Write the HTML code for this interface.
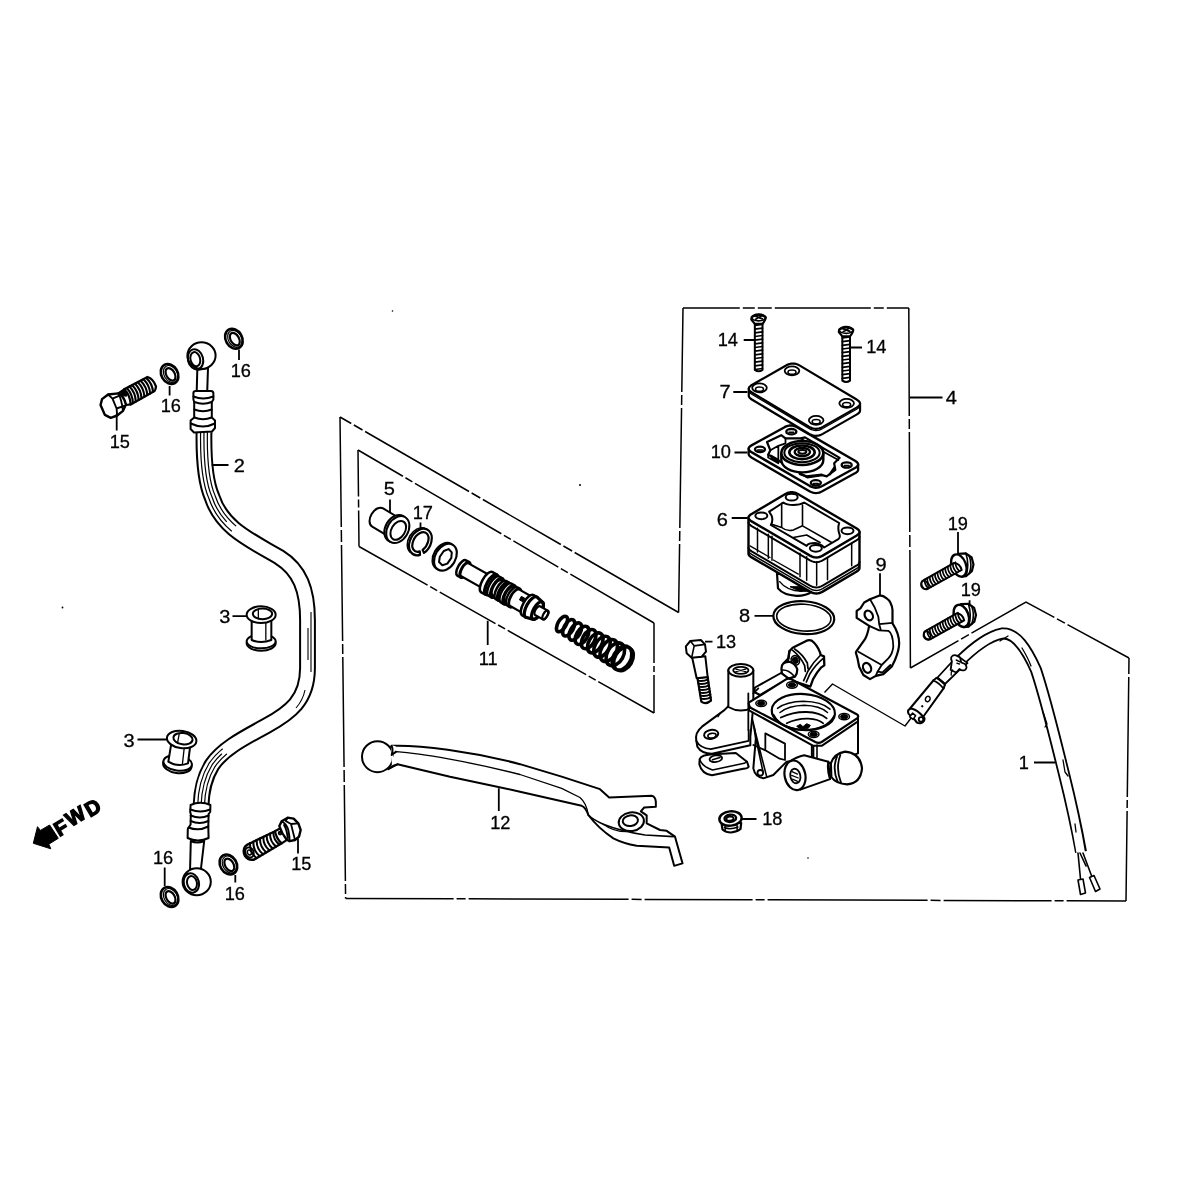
<!DOCTYPE html>
<html lang="en">
<head>
<meta charset="utf-8">
<title>Front brake master cylinder</title>
<style>
html,body{margin:0;padding:0;background:#fff;}
body{width:1200px;height:1200px;overflow:hidden;}
svg{display:block;}
svg text{font-family:"Liberation Sans",sans-serif;font-size:18.2px;fill:#000;stroke:#000;stroke-width:0.3px;}
.p{fill:none;stroke:#000;stroke-width:2;stroke-linecap:round;stroke-linejoin:round;vector-effect:non-scaling-stroke;}
.w{fill:#fff;stroke:#000;stroke-width:2;stroke-linecap:round;stroke-linejoin:round;vector-effect:non-scaling-stroke;}
.t{fill:none;stroke:#000;stroke-width:1.3;stroke-linecap:round;stroke-linejoin:round;vector-effect:non-scaling-stroke;}
.k{fill:#000;stroke:#000;stroke-width:1;stroke-linejoin:round;vector-effect:non-scaling-stroke;}
.f{fill:none;stroke:#000;stroke-width:1.5;stroke-linecap:butt;}
.l{fill:none;stroke:#000;stroke-width:1.8;stroke-linecap:butt;}
</style>
</head>
<body>
<svg width="1200" height="1200" viewBox="0 0 1200 1200">
<rect width="1200" height="1200" fill="#fff"/>
<!-- frames -->
<g id="frames" class="f">
<path d="M340 417 L345.6 898.4" stroke-dasharray="110 3 12 3 96 3 10 3"/>
<path d="M345.6 898.4 L1126 901" stroke-dasharray="108 3 9 3 160 3 10 3"/>
<path d="M1126 901 L1129 658" stroke-dasharray="90 3 8 3 120 3"/>
<path d="M1129 658 L1026 602 L910.4 668" stroke-dasharray="70 3 9 3 95 3 9 3"/>
<path d="M910.4 668 L908.8 308" stroke-dasharray="118 3 12 3 100 3 10 3"/>
<path d="M908.8 308 L683 308" stroke-dasharray="22 3 10 3 96 3 14 3 12 3 80 3"/>
<path d="M683 308 L678.6 612.5" stroke-dasharray="84 3 10 3 120 3 10 3"/>
<path d="M678.6 612.5 L340 417" stroke-dasharray="120 3 10 3 90 3 10 3"/>
<path d="M358 450 L654 623" stroke-dasharray="52 3 8 3 100 3 8 3"/>
<path d="M654 623 L654 713" stroke-dasharray="40 3 6 3"/>
<path d="M654 713 L359 546.5" stroke-dasharray="64 3 8 3 90 3 8 3"/>
<path d="M359 546.5 L358 450" stroke-dasharray="36 3 8 3 60 3"/>
<path d="M824.5 692.5 L832.5 684 L905 726 L911.5 717.5" stroke-width="1.4" stroke-linejoin="round"/>
</g>
<g id="specks" fill="#000" stroke="none">
<circle cx="580" cy="485" r="1"/><circle cx="392.5" cy="311" r="0.8"/><circle cx="62.5" cy="607.5" r="0.9"/><circle cx="808" cy="858" r="0.8"/>
</g>
<!-- hose -->
<g id="hose">
<!-- hose tube -->
<path d="M204 432 C203.6 455 204.5 480 212 497 C222 528 250 540 279 557 C300 570 307.5 590 307.5 620 L307.5 668 C307.5 700 290 713 266 726 C240 740 222 750 212 765 C204 778 201.5 790 201 806" fill="none" stroke="#000" stroke-width="16.8"/>
<path d="M204 430 C203.6 455 204.5 480 212 497 C222 528 250 540 279 557 C300 570 307.5 590 307.5 620 L307.5 668 C307.5 700 290 713 266 726 C240 740 222 750 212 765 C204 778 201.5 790 201 808" fill="none" stroke="#fff" stroke-width="12.8"/>
<!-- hose texture lines -->
<g fill="none" stroke-linecap="butt">
<path d="M204 432 C203.6 455 204.5 480 212 497 C222 528 250 540 279 557" stroke="#000" stroke-width="8" stroke-dasharray="105 400"/>
<path d="M204 432 C203.6 455 204.5 480 212 497 C222 528 250 540 279 557" stroke="#fff" stroke-width="5.6" stroke-dasharray="106 400"/>
<path d="M204 432 C203.6 455 204.5 480 212 497 C222 528 250 540 279 557" stroke="#000" stroke-width="1.2" stroke-dasharray="95 400"/>
<path d="M201 806 C201.5 790 204 778 212 765 C222 750 240 740 266 726" stroke="#000" stroke-width="8" stroke-dasharray="62 400"/>
<path d="M201 806 C201.5 790 204 778 212 765 C222 750 240 740 266 726" stroke="#fff" stroke-width="5.6" stroke-dasharray="63 400"/>
<path d="M201 806 C201.5 790 204 778 212 765 C222 750 240 740 266 726" stroke="#000" stroke-width="1.2" stroke-dasharray="58 400"/>
<path d="M311 612 L311 672 M308 628 L308 660 M305 690 Q303 700 296 708" stroke="#000" stroke-width="1.1"/>
</g>
<!-- top banjo -->
<path class="w" d="M197.3 370 L196.7 392 L207.2 392 L208 368 Z"/>
<ellipse class="w" cx="201.5" cy="355.6" rx="14.1" ry="13.3"/>
<ellipse class="p" cx="195.5" cy="359.3" rx="7.6" ry="10.2" transform="rotate(-14 195.5 359.3)"/>
<ellipse class="p" cx="195.3" cy="359.2" rx="4.8" ry="7.2" transform="rotate(-14 195.3 359.2)"/>
<!-- top collar -->
<path class="w" d="M193.4 393 Q193.4 391 196 391 L211 391 Q213.4 391 213.4 393.5 L213.4 399.5 L211.8 402 L211.8 417.5 L215 420.5 L215 428 L212 431.5 L194 432.5 L190.6 429 L190.6 420.5 L194.2 417.5 L194.2 402 L193.4 399.5 Z"/>
<path class="p" d="M193.5 396.5 Q203 400.5 213.3 396.5 M194.4 402 Q203 405.5 211.7 402 M194.4 409.5 Q203 413 211.7 409.5 M194.4 417.5 Q203 421 211.7 417.5 M190.8 423.5 Q203 429.5 214.8 423.5"/>
<!-- bottom collar -->
<path class="w" d="M190.6 805 Q200.5 800.5 210.4 805 L210.2 812 L208.6 814 L208.3 827 L208.6 838 Q198 843 187.6 838 L187.8 829 L190.6 824.5 L190.8 814 L190.2 812 Z"/>
<path class="p" d="M190.4 809.5 Q200.5 813.5 210.2 809.5 M190.7 815.5 Q200 819.5 208.6 815.5 M190.6 821 Q199.6 825 208.4 821 M188.5 827.5 Q198.5 831.5 208.3 826.5"/>
<!-- bottom banjo -->
<path class="w" d="M190.8 841 L190 872 L200.8 870 L204.2 841 Q197 844 190.8 841 Z"/>
<ellipse class="w" cx="196.7" cy="881.7" rx="14.1" ry="13.5"/>
<ellipse class="p" cx="191.4" cy="883" rx="7.6" ry="9.8" transform="rotate(-14 191.4 883)"/>
<ellipse class="p" cx="192" cy="883" rx="4.9" ry="7" transform="rotate(-14 192 883)"/>
</g>
<!-- bolts -->
<defs>
<g id="wsh">
<ellipse class="w" cx="0" cy="0" rx="8.2" ry="10.5" transform="rotate(-30)" style="stroke-width:2.6"/>
<ellipse class="p" cx="0.9" cy="0.5" rx="6.6" ry="9" transform="rotate(-30)" style="stroke-width:1.2"/>
<ellipse class="p" cx="0.6" cy="0.8" rx="4.2" ry="6.8" transform="rotate(-30)" style="stroke-width:2.2"/>
</g>
</defs>
<g id="washers">
<use href="#wsh" x="169.6" y="374"/>
<use href="#wsh" x="233.9" y="338.8"/>
<use href="#wsh" x="169.6" y="897"/>
<use href="#wsh" x="228.4" y="864.5"/>
</g>
<!-- bolt 15 top-left : traced at 17.14x in region 95,370 -->
<g id="bolt15a" transform="translate(95 370) scale(0.0583333)">
<path class="w" d="M500 332 L900 120 Q1000 150 1045 280 Q1045 330 1020 362 L612 590 Z" style="stroke-width:2.3"/>
<path class="t" d="M543.8 309.5 Q646.7 414.0 649.7 571.1 M591.2 284.5 Q694.8 387.7 699.1 543.2 M638.8 259.5 Q742.9 361.5 748.4 515.3 M686.2 234.5 Q791.0 335.2 797.8 487.4 M733.8 209.5 Q839.1 309.0 847.2 459.6 M781.2 184.5 Q887.2 282.7 896.6 431.7 M828.8 159.5 Q935.3 256.4 945.9 403.8 M876.2 134.5 Q983.4 230.1 995.3 375.9" style="stroke-width:2.1"/>
<path class="w" d="M400 400 L500 332 Q600 420 612 590 L530 600 Z" style="stroke-width:2.2"/>
<path class="k" d="M430 385 L500 335 L560 400 L540 450 L470 440 Z"/>
<path class="w" d="M95 600 L120 500 L225 420 L400 400 Q500 450 530 590 L480 700 L380 780 L270 820 L170 770 Z" style="stroke-width:2.4"/>
<path class="p" d="M225 420 L300 490 L370 660 L380 780 M300 490 L420 440 M370 660 L500 615 M400 400 Q455 500 480 700" style="stroke-width:1.9"/>
</g>
<!-- bolt 15 bottom : traced at 15x in region 235,810 -->
<g id="bolt15b" transform="translate(235 810) scale(0.0666667)">
<path class="w" d="M180 522 L610 315 L700 500 L290 742 Q200 760 150 690 Q110 610 150 550 Z" style="stroke-width:2.4"/>
<path class="t" d="M225.0 496.1 Q218.7 636.4 324.4 723.4 M275.0 472.4 Q269.3 609.4 373.1 694.3 M325.0 448.6 Q319.9 582.4 421.9 665.2 M375.0 424.9 Q370.5 555.3 470.6 636.1 M425.0 401.1 Q421.1 528.3 519.4 606.9 M475.0 377.4 Q471.7 501.3 568.1 577.8 M525.0 353.6 Q522.2 474.3 616.9 548.7 M575.0 329.9 Q572.8 447.3 665.6 519.6" style="stroke-width:2"/>
<ellipse class="p" cx="218" cy="636" rx="62" ry="78" transform="rotate(-25 218 636)" style="stroke-width:1.8"/>
<ellipse class="p" cx="216" cy="636" rx="30" ry="38" transform="rotate(-25 216 636)" style="stroke-width:1.6"/>
<path class="w" d="M600 318 L680 275 L790 440 L700 500 Q620 430 600 318 Z" style="stroke-width:2.2"/>
<circle class="p" cx="676" cy="346" r="20" style="stroke-width:2"/>
<path class="w" d="M665 240 L700 170 L790 115 L880 130 L950 200 L985 300 L960 400 L900 450 L820 468 L770 440 Q700 350 665 240 Z" style="stroke-width:2.4"/>
<path class="p" d="M790 115 L760 165 L840 210 L900 450 M840 210 L950 200 M700 170 Q770 200 800 300 Q822 400 820 468 M735 225 Q780 300 790 420" style="stroke-width:1.8"/>
</g>
<!-- grommets 3 : traced at 6x in region 110,590 -->
<g id="grommets" transform="translate(110 590) scale(0.1666667)">
<ellipse class="w" cx="907" cy="320" rx="87" ry="44"/>
<ellipse class="w" cx="907" cy="308" rx="87" ry="42"/>
<path class="w" d="M850 170 L850 300 Q907 325 968 300 L968 170 Z"/>
<ellipse class="w" cx="907" cy="148" rx="87" ry="50"/>
<ellipse class="p" cx="915" cy="143" rx="58" ry="32"/>
<path class="p" d="M890 118 L890 172 M935 200 L935 300" style="stroke-width:1.3"/>
<ellipse class="w" cx="404" cy="1050" rx="86" ry="48" transform="rotate(8 404 1050)"/>
<ellipse class="w" cx="406" cy="1038" rx="86" ry="46" transform="rotate(8 406 1038)"/>
<path class="w" d="M368 920 L350 1030 Q405 1065 468 1040 L482 930 Z"/>
<ellipse class="w" cx="430" cy="897" rx="89" ry="52" transform="rotate(8 430 897)"/>
<ellipse class="p" cx="438" cy="892" rx="58" ry="34" transform="rotate(8 438 892)"/>
<path class="p" d="M415 865 L405 920 M445 950 L435 1040" style="stroke-width:1.3"/>
</g>
<!-- FWD arrow -->
<g id="fwd" style="filter:grayscale(1)">
<path d="M37.5 826.7 L40.4 830.4 L49.6 825 L58.3 838.3 L48.8 844.2 L50.8 848.8 L33.3 843.3 Z" fill="#000" stroke="#000" stroke-width="1" stroke-linejoin="round"/>
<text x="0 14.8 36.4" y="0 -2.6 -1.2" transform="translate(59.3 837.1) rotate(-30.8)" style="font-weight:bold;font-size:20.5px;stroke:#000;stroke-width:1.3px">FWD</text>
</g>
<!-- piston -->
<g id="sleeve5" transform="translate(397.8 529.6) rotate(31)">
<path class="w" d="M-2 -10.6 L-23.5 -10.6 A7 10.6 0 0 0 -23.5 10.6 L-2 10.6 Z"/>
<ellipse class="w" cx="-2.2" cy="0" rx="10.4" ry="14.4"/>
<ellipse class="w" cx="0" cy="0" rx="10.4" ry="14.4"/>
<ellipse class="p" cx="0.8" cy="0.4" rx="6.8" ry="10.2"/>
</g>
<g id="circlip17" transform="translate(420.4 542) rotate(31)">
<path class="p" style="stroke-width:1.6" d="M-3.77 13.98 A10.2 14.2 0 0 1 -3.77 -13.98"/>
<path class="w" style="stroke-width:2.2" d="M6.28 11.19 A10.2 14.2 0 1 1 8.65 7.52 L5.94 5.62 A7 10.6 0 1 0 4.31 8.35 Z"/>
</g>
<g id="pwasher" transform="translate(445.4 557.2) rotate(31)">
<ellipse class="w" cx="-1.8" cy="0" rx="10.2" ry="14.4"/>
<ellipse class="w" cx="0" cy="0" rx="10.2" ry="14.4" style="stroke-width:2.2"/>
<path class="p" d="M-1.5 -8.6 L3 -7.4 L5.4 -2.5 L5 4.5 L1.5 8.4 L-3 7.4 L-5 2.5 L-4.6 -4.5 Z"/>
</g>
<g id="piston" transform="translate(461.6 568.0) rotate(29.3)">
<path class="w" d="M0.00 -8.80 L3.80 -8.80 A3.70 8.80 0 0 1 3.80 8.80 L0.00 8.80 A3.70 8.80 0 0 1 0.00 -8.80 Z" style="stroke-width:2.5"/><ellipse class="p" cx="3.80" cy="0" rx="3.70" ry="8.80" style="stroke-width:2.5"/>
<path class="w" d="M3.80 -7.40 L29.00 -7.40 A3.11 7.40 0 0 1 29.00 7.40 L3.80 7.40 A3.11 7.40 0 0 1 3.80 -7.40 Z" style="stroke-width:2.2"/>
<path class="w" d="M29.00 -11.60 L34.00 -11.60 A4.87 11.60 0 0 1 34.00 11.60 L29.00 11.60 A4.87 11.60 0 0 1 29.00 -11.60 Z" style="stroke-width:2.5"/><ellipse class="p" cx="34.00" cy="0" rx="4.87" ry="11.60" style="stroke-width:2.5"/>
<path class="w" d="M34.00 -9.40 L37.00 -9.40 A3.95 9.40 0 0 1 37.00 9.40 L34.00 9.40 A3.95 9.40 0 0 1 34.00 -9.40 Z" style="stroke-width:2.5"/>
<path class="w" d="M37.00 -11.00 L40.50 -11.00 A4.62 11.00 0 0 1 40.50 11.00 L37.00 11.00 A4.62 11.00 0 0 1 37.00 -11.00 Z" style="stroke-width:2.5"/><ellipse class="p" cx="40.50" cy="0" rx="4.62" ry="11.00" style="stroke-width:2.5"/>
<path class="w" d="M40.50 -8.80 L45.00 -8.80 A3.70 8.80 0 0 1 45.00 8.80 L40.50 8.80 A3.70 8.80 0 0 1 40.50 -8.80 Z" style="stroke-width:2.5"/>
<path class="w" d="M45.00 -10.40 L48.00 -10.40 A4.37 10.40 0 0 1 48.00 10.40 L45.00 10.40 A4.37 10.40 0 0 1 45.00 -10.40 Z" style="stroke-width:2.5"/><ellipse class="p" cx="48.00" cy="0" rx="4.37" ry="10.40" style="stroke-width:2.5"/>
<path class="w" d="M48.00 -8.80 L51.00 -8.80 A3.70 8.80 0 0 1 51.00 8.80 L48.00 8.80 A3.70 8.80 0 0 1 48.00 -8.80 Z" style="stroke-width:2.5"/>
<path class="w" d="M51.00 -10.80 L54.50 -10.80 A4.54 10.80 0 0 1 54.50 10.80 L51.00 10.80 A4.54 10.80 0 0 1 51.00 -10.80 Z" style="stroke-width:2.5"/><ellipse class="p" cx="54.50" cy="0" rx="4.54" ry="10.80" style="stroke-width:2.5"/>
<path class="w" d="M54.50 -8.80 L58.00 -8.80 A3.70 8.80 0 0 1 58.00 8.80 L54.50 8.80 A3.70 8.80 0 0 1 54.50 -8.80 Z" style="stroke-width:2.5"/>
<path class="w" d="M58.00 -10.40 L61.00 -10.40 A4.37 10.40 0 0 1 61.00 10.40 L58.00 10.40 A4.37 10.40 0 0 1 58.00 -10.40 Z" style="stroke-width:2.5"/><ellipse class="p" cx="61.00" cy="0" rx="4.37" ry="10.40" style="stroke-width:2.5"/>
<path class="w" d="M61.00 -9.40 L76.00 -9.40 A3.95 9.40 0 0 1 76.00 9.40 L61.00 9.40 A3.95 9.40 0 0 1 61.00 -9.40 Z" style="stroke-width:2.2"/>
<path class="k" d="M66 -4.5 L70 -4.5 L70 -0.5 L66 -0.5 Z"/>
<path class="w" d="M76.00 -11.60 L80.00 -11.60 A4.87 11.60 0 0 1 80.00 11.60 L76.00 11.60 A4.87 11.60 0 0 1 76.00 -11.60 Z" style="stroke-width:2.5"/><ellipse class="p" cx="80.00" cy="0" rx="4.87" ry="11.60" style="stroke-width:2.5"/>
<path class="w" d="M80.00 -11.60 L87.00 -9.80 A4.12 9.80 0 0 1 87.00 9.80 L80.00 11.60 A4.87 11.60 0 0 1 80.00 -11.60 Z" style="stroke-width:3.2"/><ellipse class="p" cx="87.00" cy="0" rx="4.12" ry="9.80" style="stroke-width:3.2"/>
<path class="w" d="M87.00 -5.00 L96.00 -5.00 A2.10 5.00 0 0 1 96.00 5.00 L87.00 5.00 A2.10 5.00 0 0 1 87.00 -5.00 Z" style="stroke-width:2.2"/><ellipse class="p" cx="96.00" cy="0" rx="2.10" ry="5.00" style="stroke-width:2.2"/>
</g>
<g id="spring" transform="translate(562 624) rotate(29.6)">
<ellipse class="p" cx="0.0" cy="0" rx="4.1" ry="8.6" style="stroke-width:3.6"/>
<ellipse class="p" cx="7.7" cy="0" rx="4.6" ry="9.1" style="stroke-width:3.6"/>
<ellipse class="p" cx="15.3" cy="0" rx="5.0" ry="9.5" style="stroke-width:3.6"/>
<ellipse class="p" cx="23.0" cy="0" rx="5.5" ry="10.0" style="stroke-width:3.6"/>
<ellipse class="p" cx="30.7" cy="0" rx="6.0" ry="10.5" style="stroke-width:3.6"/>
<ellipse class="p" cx="38.3" cy="0" rx="6.5" ry="10.9" style="stroke-width:3.6"/>
<ellipse class="p" cx="46.0" cy="0" rx="7.0" ry="11.4" style="stroke-width:3.6"/>
<ellipse class="p" cx="53.7" cy="0" rx="7.5" ry="11.9" style="stroke-width:3.6"/>
<ellipse class="p" cx="61.3" cy="0" rx="8.1" ry="12.3" style="stroke-width:3.6"/>
<ellipse class="p" cx="69.0" cy="0" rx="8.7" ry="12.8" style="stroke-width:3.6"/>
<ellipse class="p" cx="71.4" cy="0" rx="8.7" ry="12.8" style="stroke-width:2.4"/>
</g>
<!-- lever -->
<!-- lever 12 : traced at 6x, origin 520,750 -->
<g id="lever12" transform="translate(520 750) scale(0.1666667)">
<path class="w" d="M-770 -25 C-600 -30 -300 5 0 85 L250 160 L480 235 L535 285 L790 275 Q812 280 815 310 L815 340 L745 345 L725 368 L760 392 L760 440 L840 480 L880 485 L930 520 L975 680 L925 695 L895 585 L700 575 Q620 560 560 530 Q470 470 410 390 Q395 345 370 335 L0 250 L-130 222 L-420 160 L-735 85 L-790 115 L-800 30 Z"/>
<path class="p" d="M-780 35 L-740 10 C-600 20 -300 70 0 147 L250 230 L360 285 Q400 320 410 390" style="stroke-width:1.3"/>
<path class="p" d="M410 390 Q440 420 500 445 Q600 485 750 510 L920 520" style="stroke-width:1.6"/>
<path class="p" d="M500 445 Q560 490 640 490" style="stroke-width:1.2"/>
<circle class="w" cx="-855" cy="40" r="93"/>
<path d="M-775 -30 L-768 100 L-735 85 L-760 35 L-745 -22 Z" fill="#fff" stroke="none"/>
<path class="p" d="M-770 -25 Q-760 0 -770 30 L-745 10 M-790 112 Q-770 95 -735 85"/>
<ellipse class="w" cx="668" cy="430" rx="76" ry="56" transform="rotate(-8 668 430)"/>
<ellipse class="p" cx="662" cy="424" rx="46" ry="32" transform="rotate(-8 662 424)"/>
</g>
<!-- body -->
<!-- master cylinder body : traced at 6x, origin 680,630 -->
<g id="body" transform="translate(680 630) scale(0.1666667)">
<!-- handlebar clamp half (behind) -->
<path class="w" d="M656 128 L676 106 L760 64 Q776 58 790 64 Q822 88 840 134 L844 150 L864 158 L866 212 L848 224 Q820 254 798 296 L782 340 L660 300 L640 240 Z" style="stroke-width:2.3"/>
<path class="p" d="M688 114 Q736 146 764 198 L768 232 M676 122 Q722 158 748 214 L752 248 M844 150 Q800 192 768 246 L742 304 M858 172 Q816 206 780 262 L758 312" style="stroke-width:1.7"/>
<path class="p" d="M656 128 L652 168 L622 200" style="stroke-width:2.2"/>
<ellipse class="k" cx="692" cy="182" rx="17" ry="20" transform="rotate(-25 692 182)"/>
<ellipse class="p" cx="692" cy="182" rx="25" ry="29" transform="rotate(-25 692 182)" style="stroke-width:1.5"/>
<!-- link to plate -->
<path class="w" d="M612 212 Q626 188 660 192 Q694 204 704 236 Q704 262 690 280 L650 292 L612 262 Q604 236 612 212 Z" style="stroke-width:2.2"/>
<path class="p" d="M612 240 Q650 236 684 276" style="stroke-width:1.6"/>
<path class="w" d="M606 258 L450 345 L445 372 L480 390 L652 292 Z" style="stroke-width:2"/>
<!-- lower lever arm -->
<path class="w" d="M118 775 Q128 748 200 746 L335 738 L402 790 L412 820 Q405 832 380 832 L192 872 Q130 862 116 805 Z"/>
<path class="p" d="M118 778 Q135 820 195 840 L385 800 L402 790" style="stroke-width:1.6"/>
<ellipse class="w" cx="215" cy="772" rx="38" ry="20" transform="rotate(-8 215 772)" style="stroke-width:1.8"/>
<path class="p" d="M195 778 L240 765" style="stroke-width:1.6"/>
<!-- body lower-left rib -->
<path class="w" d="M420 480 L445 585 L455 650 L440 830 Q450 880 500 890 L560 870 L640 790 L800 770 L800 690 Z"/>
<path class="p" d="M445 585 L520 880 M455 650 L500 860" style="stroke-width:1.6"/>
<circle class="w" cx="482" cy="857" r="17" style="stroke-width:1.8"/>
<!-- pocket -->
<path class="p" d="M512 620 L630 682 L630 780 L598 772 L512 722 Z M512 722 L440 690" style="stroke-width:1.8"/>
<!-- right body face -->
<path class="w" d="M800 690 L1068 540 L1068 740 L900 800 L800 775 Z"/>
<!-- upper lever arm + tower -->
<path class="w" d="M292 455 Q270 480 240 500 L132 580 Q88 615 98 665 L104 700 Q130 742 192 742 L422 692 L422 640 L440 455 Z"/>
<path class="p" d="M98 665 Q120 708 185 715 L412 665 L412 600" style="stroke-width:1.8"/>
<ellipse class="w" cx="187" cy="626" rx="43" ry="27" transform="rotate(-10 187 626)"/>
<ellipse class="p" cx="192" cy="634" rx="25" ry="14" transform="rotate(-10 192 634)" style="stroke-width:1.6"/>
<path class="p" d="M228 520 L240 500" style="stroke-width:1.4"/>
<path class="w" d="M290 242 L290 462 Q365 505 440 462 L440 242 Z"/>
<ellipse class="w" cx="365" cy="242" rx="75" ry="38"/>
<ellipse class="p" cx="365" cy="242" rx="46" ry="21" style="stroke-width:1.8"/>
<path class="p" d="M335 235 L395 250 M335 250 L395 235" style="stroke-width:1.2"/>
<path class="p" d="M410 380 L410 600 M440 380 L470 350" style="stroke-width:1.8"/>
<!-- top plate -->
<path class="w" d="M414 440 L414 482 L800 695 L850 695 L1068 548 L1068 515 Z"/>
<path class="w" d="M414 448 Q408 438 422 430 L636 296 Q652 288 668 296 L1060 506 Q1078 516 1062 530 L850 672 Q832 682 812 672 L426 468 Q414 460 414 448 Z" style="stroke-width:2.2"/>
<path class="p" d="M790 690 L790 775 M822 690 L822 775" style="stroke-width:1.6"/>
<!-- bore -->
<ellipse class="w" cx="740" cy="492" rx="190" ry="108" transform="rotate(4 740 492)" style="stroke-width:2.2"/>
<path class="p" d="M562 510 Q600 590 740 600 Q880 598 925 515" style="stroke-width:1.8"/>
<path class="p" d="M585 470 Q640 430 740 428 Q850 430 900 475" style="stroke-width:1.5"/>
<path class="p" d="M600 495 Q650 455 745 452 Q840 455 885 495" style="stroke-width:1.5"/>
<path class="p" d="M605 525 Q680 490 760 492 Q840 495 880 530" style="stroke-width:1.8"/>
<path class="p" d="M640 560 Q700 530 770 532 Q830 535 860 560" style="stroke-width:1.6"/>
<path class="k" d="M700 578 L722 566 L738 580 L760 562 L782 572 L770 590 L722 592 Z"/>
<!-- plate holes -->
<ellipse class="k" cx="487" cy="440" rx="22" ry="13"/><ellipse class="p" cx="487" cy="440" rx="32" ry="19" style="stroke-width:1.5"/>
<ellipse class="k" cx="672" cy="330" rx="22" ry="13"/><ellipse class="p" cx="672" cy="330" rx="32" ry="19" style="stroke-width:1.5"/>
<ellipse class="k" cx="985" cy="520" rx="22" ry="13"/><ellipse class="p" cx="985" cy="520" rx="32" ry="19" style="stroke-width:1.5"/>
<ellipse class="k" cx="802" cy="626" rx="22" ry="13"/><ellipse class="p" cx="802" cy="626" rx="32" ry="19" style="stroke-width:1.5"/>
<!-- bottom cylinder (banjo port) and cap -->
<path class="w" d="M650 795 Q700 760 745 752 L890 790 L900 895 L722 958 Z"/>
<path class="w" d="M905 800 Q925 742 990 730 Q1082 738 1092 830 Q1084 920 1002 926 Q935 922 908 882 Z" style="stroke-width:2.2"/>
<path class="p" d="M942 760 Q912 830 946 910 M962 750 Q932 830 966 916 M890 790 Q880 840 900 895" style="stroke-width:1.8"/>
<ellipse class="w" cx="690" cy="872" rx="62" ry="90" transform="rotate(-12 690 872)" style="stroke-width:2.2"/>
<ellipse class="p" cx="692" cy="876" rx="30" ry="44" transform="rotate(-12 692 876)" style="stroke-width:1.8"/>
<path class="p" d="M672 850 L705 865 M670 872 L710 888 M675 895 L705 908" style="stroke-width:1.2"/>
</g>
<!-- bolt 13 -->
<g id="bolt13" transform="translate(680 630) scale(0.1666667)">
<path class="w" d="M105 288 L128 430 Q155 450 186 424 L166 282 Z" style="stroke-width:2.2"/>
<path class="t" d="M107 304 Q140 310 168 296 M110 322 Q143 328 171 314 M113 340 Q146 346 174 332 M116 358 Q149 364 177 350 M119 376 Q152 382 180 368 M122 394 Q155 400 183 386 M125 412 Q158 418 185 404" style="stroke-width:1.9"/>
<path class="w" d="M72 160 L100 290 L166 282 L152 158 Z"/>
<path class="w" d="M35 98 L62 66 L125 60 L150 86 L156 130 L130 160 L70 166 L40 140 Z"/>
<path class="p" d="M62 66 L85 95 L70 166 M85 95 L150 86" style="stroke-width:1.6"/>
</g>
<!-- reservoir_c -->
<g id="reserv6" transform="translate(700 480) scale(0.1666667)">
<path class="w" d="M462 560 L468 650 Q500 690 580 695 Q640 695 670 670 L670 600 Z" style="stroke-width:2.2"/>
<path class="p" d="M478 610 Q520 665 610 668" style="stroke-width:1.4"/>
<path class="k" d="M540 640 L600 668 L660 668 L600 640 Z"/>
<path class="w" d="M291.0 226.0 L291.0 442.0 L292.2 447.6 L295.7 453.1 L301.6 458.7 L309.9 464.3 L660.1 669.7 L669.5 674.6 L679.0 678.1 L688.5 680.2 L698.0 680.8 L707.5 680.1 L716.9 678.0 L726.4 674.5 L735.9 669.6 L938.1 550.4 L946.4 544.8 L952.3 539.2 L955.9 533.6 L957.0 528.0 L957.0 312.0" style="stroke-width:2.4"/>
<path class="p" d="M291.0 424.0 L292.2 429.6 L295.7 435.1 L301.6 440.7 L309.9 446.3 L660.1 651.7 L669.5 656.6 L679.0 660.1 L688.5 662.2 L698.0 662.8 L707.5 662.1 L716.9 660.0 L726.4 656.5 L735.9 651.6 L938.1 532.4 L946.4 526.8 L952.3 521.2 L955.9 515.6 L957.0 510.0" style="stroke-width:1.5"/>
<path class="p" d="M291.0 406.0 L292.2 411.6 L295.7 417.1 L301.6 422.7 L309.9 428.3 L660.1 633.7 L669.5 638.6 L679.0 642.1 L688.5 644.2 L698.0 644.8 L707.5 644.1 L716.9 642.0 L726.4 638.5 L735.9 633.6 L938.1 514.4 L946.4 508.8 L952.3 503.2 L955.9 497.6 L957.0 492.0" style="stroke-width:2"/>
<path class="p" d="M345 290 L345 432 M410 325 L410 470 M432 338 L432 482 M600 440 L600 580 M640 460 L640 602 M765 470 L765 598 M910 380 L910 515 M700 490 L700 632" style="stroke-width:1.5"/>
<path class="p" d="M300 395 L420 465 M440 480 L590 565" style="stroke-width:1.3"/>
<path class="p" d="M291.0 254.0 L292.2 259.6 L295.7 265.1 L301.6 270.7 L309.9 276.3 L660.1 481.7 L669.5 486.6 L679.0 490.1 L688.5 492.2 L698.0 492.8 L707.5 492.1 L716.9 490.0 L726.4 486.5 L735.9 481.6 L938.1 362.4 L946.4 356.8 L952.3 351.2 L955.9 345.6 L957.0 340.0" style="stroke-width:2"/>
<path class="w" d="M309.9 248.3 L301.6 242.7 L295.7 237.1 L292.2 231.6 L291.0 226.0 L292.1 220.4 L295.7 214.8 L301.6 209.2 L309.9 203.6 L512.1 84.4 L521.6 79.5 L531.1 76.0 L540.5 73.9 L550.0 73.2 L559.5 73.8 L569.0 75.9 L578.5 79.4 L587.9 84.3 L938.1 289.7 L946.4 295.3 L952.3 300.9 L955.8 306.4 L957.0 312.0 L955.9 317.6 L952.3 323.2 L946.4 328.8 L938.1 334.4 L735.9 453.6 L726.4 458.5 L716.9 462.0 L707.5 464.1 L698.0 464.8 L688.5 464.2 L679.0 462.1 L669.5 458.6 L660.1 453.7 Z" style="stroke-width:2.4"/>
<path class="w" d="M415 190 L500 135 Q520 150 560 150 Q600 150 625 135 L835 258 Q825 290 835 320 Q845 345 830 355 L745 405 Q720 380 690 378 Q650 378 640 395 L425 270 Q440 245 430 215 Z" style="stroke-width:2"/>
<path class="p" d="M490 140 L490 285 Q520 310 560 300 L615 275 L615 150 M615 275 L790 375 M560 345 L640 330 L720 375 M430 265 L490 285" style="stroke-width:1.6"/>
<ellipse class="w" cx="368" cy="215" rx="36" ry="20" style="stroke-width:2"/>
<ellipse class="w" cx="550" cy="103" rx="36" ry="20" style="stroke-width:2"/>
<ellipse class="w" cx="885" cy="305" rx="36" ry="20" style="stroke-width:2"/>
<ellipse class="w" cx="695" cy="410" rx="36" ry="20" style="stroke-width:2"/>
</g>
<!-- reservoir_b -->
<g id="diaph10" transform="translate(700 410) scale(0.1666667)">
<path class="w" d="M292.2 232.2 L292.2 264.2 L293.3 269.7 L296.8 275.1 L302.7 280.6 L311.1 286.1 L656.9 486.9 L666.5 491.8 L676.0 495.2 L685.6 497.4 L695.1 498.2 L704.7 497.6 L714.3 495.7 L723.9 492.4 L733.6 487.8 L929.4 380.2 L937.9 374.9 L943.9 369.5 L947.6 364.2 L948.8 358.8 L948.8 326.8" style="stroke-width:2.3"/>
<path class="w" d="M311.1 254.1 L302.7 248.6 L296.8 243.1 L293.3 237.7 L292.2 232.2 L293.4 226.8 L297.1 221.5 L303.1 216.1 L311.6 210.8 L507.4 103.2 L517.1 98.6 L526.7 95.3 L536.3 93.4 L545.9 92.8 L555.4 93.6 L565.0 95.8 L574.5 99.2 L584.1 104.1 L929.9 304.9 L938.3 310.4 L944.2 315.9 L947.7 321.3 L948.8 326.8 L947.6 332.2 L943.9 337.5 L937.9 342.9 L929.4 348.2 L733.6 455.8 L723.9 460.4 L714.3 463.7 L704.7 465.6 L695.1 466.2 L685.6 465.4 L676.0 463.2 L666.5 459.8 L656.9 454.9 Z" style="stroke-width:2.4"/>
<path class="w" d="M402 192 L487 151 L513 170 L604 170 L630 164 L838 287 L805 320 L812 359 L760 398 L734 391 L643 404 L610 385 L409 268 L422 242 Z" style="stroke-width:2.2"/>
<path class="p" d="M422 242 L470 215 L470 300 M513 170 L513 200 L470 215 M409 268 L409 285 L470 320 M604 170 L640 195 L830 300" style="stroke-width:1.8"/>
<path class="p" d="M425 275 L470 300 M430 287 L470 312 M600 385 L640 398 L730 388 M780 385 L805 347" style="stroke-width:2.4"/>
<path class="w" d="M488 262 L488 300 A126 74 0 0 0 740 300 L740 262 Z" style="stroke-width:2.4"/>
<ellipse class="w" cx="614" cy="258" rx="126" ry="72" style="stroke-width:2.6"/>
<ellipse class="p" cx="612" cy="256" rx="106" ry="57" style="stroke-width:2"/>
<ellipse class="p" cx="612" cy="254" rx="76" ry="41" style="stroke-width:2.6"/>
<ellipse class="p" cx="614" cy="252" rx="46" ry="24" style="stroke-width:2.4"/>
<ellipse class="p" cx="614" cy="251" rx="24" ry="11" style="stroke-width:2"/>
<ellipse class="w" cx="360" cy="236" rx="30" ry="16" style="stroke-width:2.4"/>
<path class="p" d="M346 240 L374 240" style="stroke-width:1.6"/>
<ellipse class="w" cx="548" cy="130" rx="30" ry="16" style="stroke-width:2.4"/>
<path class="p" d="M534 134 L562 134" style="stroke-width:1.6"/>
<ellipse class="w" cx="880" cy="330" rx="30" ry="16" style="stroke-width:2.4"/>
<path class="p" d="M866 334 L894 334" style="stroke-width:1.6"/>
<ellipse class="w" cx="695" cy="437" rx="30" ry="16" style="stroke-width:2.4"/>
<path class="p" d="M681 441 L709 441" style="stroke-width:1.6"/>
</g>
<!-- reservoir_a -->
<g id="screws14" transform="translate(700 300) scale(0.1666667)">
<path class="w" d="M329 133 L329 420 Q352 436 375 420 L375 133 Z" style="stroke-width:2"/>
<path class="t" d="M329 153 L375 147 M329 175 L375 169 M329 197 L375 191 M329 219 L375 213 M329 241 L375 235 M329 263 L375 257 M329 285 L375 279 M329 307 L375 301 M329 329 L375 323 M329 351 L375 345 M329 373 L375 367 M329 395 L375 389 M329 417 L375 411" style="stroke-width:1.7"/>
<path class="w" d="M310 103 Q352 75 394 103 Q396 117 375 143 L329 143 L308 117 Z" style="stroke-width:2.2"/>
<ellipse class="p" cx="352" cy="105" rx="42" ry="20" style="stroke-width:1.6"/>
<path class="p" d="M332 97 L374 113 M370 95 L334 115" style="stroke-width:1.8"/>
<path class="w" d="M854 208 L854 484 Q877 500 900 484 L900 208 Z" style="stroke-width:2"/>
<path class="t" d="M854 228 L900 222 M854 250 L900 244 M854 272 L900 266 M854 294 L900 288 M854 316 L900 310 M854 338 L900 332 M854 360 L900 354 M854 382 L900 376 M854 404 L900 398 M854 426 L900 420 M854 448 L900 442 M854 470 L900 464" style="stroke-width:1.7"/>
<path class="w" d="M835 178 Q877 150 919 178 Q921 192 900 218 L854 218 L833 192 Z" style="stroke-width:2.2"/>
<ellipse class="p" cx="877" cy="180" rx="42" ry="20" style="stroke-width:1.6"/>
<path class="p" d="M857 172 L899 188 M895 170 L859 190" style="stroke-width:1.8"/>
</g>
<g id="plate7" transform="translate(700 300) scale(0.1666667)">
<path class="w" d="M292.7 532.2 L292.7 574.2 L294.0 580.3 L297.8 586.4 L304.2 592.5 L313.2 598.6 L653.8 802.4 L664.1 807.8 L674.4 811.7 L684.8 814.0 L695.1 814.9 L705.5 814.3 L715.9 812.1 L726.3 808.4 L736.7 803.2 L939.3 687.8 L948.4 681.8 L955.0 675.8 L958.9 669.8 L960.3 663.8 L960.3 621.8" style="stroke-width:2.2"/>
<path class="p" d="M292.7 542.2 L294.0 548.3 L297.8 554.4 L304.2 560.5 L313.2 566.6 L653.8 770.4 L664.1 775.8 L674.4 779.7 L684.8 782.0 L695.1 782.9 L705.5 782.3 L715.9 780.1 L726.3 776.4 L736.7 771.2 L939.3 655.8 L948.4 649.8 L955.0 643.8 L958.9 637.8 L960.3 631.8" style="stroke-width:1.3"/>
<path class="w" d="M313.2 556.6 L304.2 550.5 L297.8 544.4 L294.0 538.3 L292.7 532.2 L294.1 526.2 L298.0 520.2 L304.6 514.2 L313.7 508.2 L516.3 392.8 L526.7 387.6 L537.1 383.9 L547.5 381.7 L557.9 381.1 L568.2 382.0 L578.6 384.3 L588.9 388.2 L599.2 393.6 L939.8 597.4 L948.8 603.5 L955.2 609.6 L959.0 615.7 L960.3 621.8 L958.9 627.8 L955.0 633.8 L948.4 639.8 L939.3 645.8 L736.7 761.2 L726.3 766.4 L715.9 770.1 L705.5 772.3 L695.1 772.9 L684.8 772.0 L674.4 769.7 L664.1 765.8 L653.8 760.4 Z" style="stroke-width:2.2"/>
<ellipse class="p" cx="357" cy="527" rx="44" ry="27" style="stroke-width:1.8"/>
<ellipse class="p" cx="357" cy="535" rx="24" ry="13" style="stroke-width:1.6"/>
<ellipse class="p" cx="552" cy="425" rx="44" ry="27" style="stroke-width:1.8"/>
<ellipse class="p" cx="552" cy="433" rx="24" ry="13" style="stroke-width:1.6"/>
<ellipse class="p" cx="880" cy="620" rx="44" ry="27" style="stroke-width:1.8"/>
<ellipse class="p" cx="880" cy="628" rx="24" ry="13" style="stroke-width:1.6"/>
<ellipse class="p" cx="697" cy="722" rx="44" ry="27" style="stroke-width:1.8"/>
<ellipse class="p" cx="697" cy="730" rx="24" ry="13" style="stroke-width:1.6"/>
</g>
<!-- misc -->
<!-- O-ring 8 -->
<g id="oring8">
<ellipse class="w" cx="803.8" cy="617.6" rx="30.5" ry="16.4" transform="rotate(4 803.8 617.6)" style="stroke-width:2.2"/>
<ellipse class="p" cx="803.8" cy="617.6" rx="27.2" ry="13.4" transform="rotate(4 803.8 617.6)" style="stroke-width:1.6"/>
</g>
<!-- nut 18 (10x, origin 690,780) -->
<g id="nut18" transform="translate(690 780) scale(0.1)">
<path class="w" d="M315 430 L325 495 Q360 525 410 525 Q470 520 505 490 L512 430 Z" style="stroke-width:2.2"/>
<path class="p" d="M345 475 Q400 500 480 470 M350 450 L352 505 M470 450 L472 512" style="stroke-width:1.5"/>
<ellipse class="w" cx="405" cy="385" rx="112" ry="72" transform="rotate(-6 405 385)" style="stroke-width:2.4"/>
<ellipse class="p" cx="403" cy="383" rx="58" ry="36" transform="rotate(-6 403 383)" style="stroke-width:2.4"/>
<ellipse class="p" cx="400" cy="386" rx="36" ry="20" transform="rotate(-6 400 386)" style="stroke-width:1.8"/>
</g>
<!-- holder 9 (12x, origin 845,585) -->
<g id="holder9" transform="translate(845 585) scale(0.0833333)">
<path class="w" d="M415 125 L300 172 L230 210 L185 280 L140 310 L140 395 L290 490 Q270 600 240 650 L140 790 L130 810 L150 880 L170 980 L220 1080 L300 1130 L370 1090 L460 1070 L560 980 L600 900 Q650 780 650 700 Q650 580 570 460 L570 300 Q560 200 500 160 Q460 125 415 125 Z" style="stroke-width:2.2"/>
<path class="p" d="M300 172 Q360 260 400 380 L410 470 L570 455 M410 470 L430 540 M290 490 L410 545 L520 550 Q575 580 580 740 Q570 830 520 880 L440 960 L160 800 M440 960 L390 1040 L370 1090 M390 1040 L450 1048 L545 960" style="stroke-width:1.8"/>
<ellipse class="w" cx="285" cy="365" rx="46" ry="62" transform="rotate(-30 285 365)" style="stroke-width:2.2"/>
<ellipse class="w" cx="265" cy="995" rx="46" ry="62" transform="rotate(-25 265 995)" style="stroke-width:2.2"/>
</g>
<!-- bolts 19 (12x, origin 915,545) -->
<defs><g id="B19">
<path class="w" d="M520 105 L610 100 L680 150 L702 235 L682 315 L612 375 L560 380 Z" style="stroke-width:2.2"/>
<path class="p" d="M610 100 Q655 235 612 375 M650 128 Q690 235 652 342" style="stroke-width:1.6"/>
<ellipse class="w" cx="526" cy="246" rx="86" ry="138" transform="rotate(-20 526 246)" style="stroke-width:2.4"/>
<path class="w" d="M100 425 L470 215 Q540 220 560 300 L145 530 Q95 535 75 490 Q70 440 100 425 Z" style="stroke-width:2"/>
<path class="t" d="M115.4 416.3 Q116.1 481.2 160.6 521.3 M146.2 398.8 Q147.0 463.9 191.7 504.0 M176.9 381.3 Q177.9 446.5 222.9 486.7 M207.7 363.9 Q208.8 429.2 254.0 469.4 M238.5 346.4 Q239.7 411.8 285.2 452.1 M269.2 329.0 Q270.6 394.5 316.3 434.8 M300.0 311.5 Q301.5 377.1 347.5 417.5 M330.8 294.0 Q332.4 359.8 378.7 400.2 M361.5 276.6 Q363.3 342.4 409.8 382.9 M392.3 259.1 Q394.2 325.1 441.0 365.6 M423.1 241.7 Q425.1 307.7 472.1 348.3 M453.8 224.2 Q456.0 290.4 503.3 331.0 M484.6 206.7 Q487.0 273.0 534.4 313.7" style="stroke-width:1.7"/>
<ellipse class="p" cx="117" cy="478" rx="36" ry="54" transform="rotate(-28 117 478)" style="stroke-width:1.6"/>
</g></defs>
<g id="bolts19" transform="translate(915 545) scale(0.0833333)">
<use href="#B19"/>
<use href="#B19" x="30" y="605"/>
</g>
<!-- switch -->
<!-- stop switch and wire 1 -->
<g id="wire1">
<path d="M960 661 C975 646 990 636 1002 633.5 C1016 632 1027 650 1036 670 C1046 700 1055 738 1064 774 C1071 802 1077 830 1081 852" fill="none" stroke="#000" stroke-width="12" stroke-linecap="butt"/>
<path d="M958 663 C975 646 990 636 1002 633.5 C1016 632 1027 650 1036 670 C1046 700 1055 738 1064 774 C1071 802 1077 830 1081 854" fill="none" stroke="#fff" stroke-width="8.4" stroke-linecap="butt"/>
<path class="p" d="M1000 641 L1008 636 M1022 648 Q1028 658 1031 666 M1043 712 L1047 724 L1045 727 M1063 760 L1065 772 L1068 776 M1075 824 L1076 832" style="stroke-width:1.3"/>
<path class="p" d="M1078 853 L1080.5 879 M1083 853 L1092 877 M1080 853 L1086 866" style="stroke-width:1.6"/>
<path class="w" d="M1078 880 L1083 879 L1085.5 893 L1080.5 894.5 Z" style="stroke-width:1.6"/>
<path class="w" d="M1089.5 877.5 L1094 875.5 L1100 889 L1095.5 891.5 Z" style="stroke-width:1.6"/>
</g>
<!-- switch (8x, origin 895,620) -->
<g id="switch" transform="translate(895 620) scale(0.125)">
<path class="w" d="M340 460 L460 330 L500 285 L580 345 L520 395 L400 512 Z" style="stroke-width:1.8"/>
<path class="w" d="M455 330 Q440 300 462 285 Q480 275 500 290 L520 300 L530 340 L560 352 Q585 380 560 400 Q535 410 515 392 L490 420 L445 400 Z" style="stroke-width:1.8"/>
<path class="p" d="M490 320 L520 335 M495 345 L515 352 M460 400 Q445 420 450 440" style="stroke-width:1.4"/>
<path class="w" d="M110 720 L310 480 L335 462 L400 515 L390 545 L220 782 Z" style="stroke-width:2"/>
<path class="p" d="M306 484 Q350 500 388 548 M330 464 Q375 480 400 518" style="stroke-width:1.8"/>
<ellipse class="p" cx="262" cy="632" rx="18" ry="22" transform="rotate(30 262 632)" style="stroke-width:1.5"/>
<circle class="k" cx="218" cy="690" r="6"/>
<path class="w" d="M105 722 Q100 745 118 760 L160 800 Q175 830 205 826 Q240 815 236 785 L222 770 Q180 720 130 708 Z" style="stroke-width:2"/>
<path class="w" d="M118 775 L140 745 L165 765 L145 795 Z" style="stroke-width:1.6"/>
<circle class="w" cx="208" cy="795" r="18" style="stroke-width:1.8"/>
</g>
<!-- labels -->
<g id="labels" style="filter:grayscale(1)">
<text x="109.7" y="448.0">15</text>
<text x="160.7" y="411.9">16</text>
<text x="230.7" y="376.9">16</text>
<text x="0" y="0" transform="translate(239.3 471.7) scale(1.1 1)" text-anchor="middle">2</text>
<text x="0" y="0" transform="translate(224.8 622.5) scale(1.1 1)" text-anchor="middle">3</text>
<text x="0" y="0" transform="translate(129.1 747.2) scale(1.1 1)" text-anchor="middle">3</text>
<text x="153.0" y="863.7">16</text>
<text x="224.7" y="899.5">16</text>
<text x="291.2" y="870.4">15</text>
<text x="0" y="0" transform="translate(389.3 495.1) scale(1.1 1)" text-anchor="middle">5</text>
<text x="412.7" y="518.7">17</text>
<text x="478.7" y="665.0">11</text>
<text x="490.2" y="828.7">12</text>
<text x="717.7" y="346.2">14</text>
<text x="866.2" y="352.9">14</text>
<text x="0" y="0" transform="translate(725.1 397.9) scale(1.1 1)" text-anchor="middle">7</text>
<text x="710.7" y="458.2">10</text>
<text x="0" y="0" transform="translate(722.3 526.0) scale(1.1 1)" text-anchor="middle">6</text>
<text x="0" y="0" transform="translate(744.5 622.3) scale(1.1 1)" text-anchor="middle">8</text>
<text x="0" y="0" transform="translate(881.1 571.2) scale(1.1 1)" text-anchor="middle">9</text>
<text x="716.0" y="647.5">13</text>
<text x="762.2" y="825.4">18</text>
<text x="0" y="0" transform="translate(951.2 404.4) scale(1.1 1)" text-anchor="middle">4</text>
<text x="947.7" y="530.2">19</text>
<text x="960.7" y="596.4">19</text>
<text x="1018.7" y="769.4">1</text>
</g>
<g id="leaders" class="l">
<path d="M116.7 414 V430.5 M169.6 386 V395.5 M239 349.5 V360 M211.7 465 H228.5 M232.5 616.2 H247 M137.5 739.5 H167 M164.7 867.5 V886 M235.3 875 V882.5 M298 838.5 V853.5"/>
<path d="M390 499.5 V512 M420.5 522.5 V529.5 M487.7 620.7 V645 M498.8 788.3 V811"/>
<path d="M743.7 340 H755 M850 347.5 H862 M733.3 392 H747.5 M734.5 452.5 H747.5 M731.7 518 H747.5 M754.5 615.8 H774 M880 573.3 V595 M705 641.7 H712.5 M742 819 H756.5 M910 397.5 H942.5 M958 532 V555 M969.6 600.3 V606 M1034 762.5 H1055"/>
</g>
</svg>
</body>
</html>
